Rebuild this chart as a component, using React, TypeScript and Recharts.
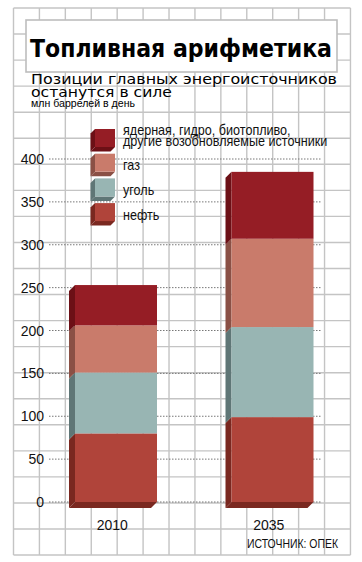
import React from 'react';
import { BarChart, Bar, XAxis, YAxis, CartesianGrid, Legend } from 'recharts';

// ---- data ----
const years = ['2010', '2035'];
const oil = [80, 99];
const coal = [71, 105];
const gas = [55, 103];
const other = [47, 78];
const yTicks = [0, 50, 100, 150, 200, 250, 300, 350, 400];

const title = 'Топливная арифметика';
const subtitle1 = 'Позиции главных энергоисточников';
const subtitle2 = 'останутся в силе';
const unitText = 'млн баррелей в день';
const sourceText = 'ИСТОЧНИК: ОПЕК';

const seriesInfo = [
  { key: 'oil', label: ['нефть'], front: '#b0443a', side: '#7a2820' },
  { key: 'coal', label: ['уголь'], front: '#98b5b3', side: '#5f7676' },
  { key: 'gas', label: ['газ'], front: '#c97b6b', side: '#8a5045' },
  { key: 'other', label: ['ядерная, гидро, биотопливо,', 'другие возобновляемые источники'], front: '#951d25', side: '#6c1016' },
];

const data = years.map((y, i) => ({ year: y, oil: oil[i], coal: coal[i], gas: gas[i], other: other[i] }));

const SANS = '"Liberation Sans", Arial, sans-serif';
const TITLEF = '"DejaVu Sans", Verdana, sans-serif';

const D = 6;
const make3D = (front: string, side: string, bottom: boolean) => (props: any) => {
  const { x, y, width: w, height: h } = props;
  if (!h || h <= 0) return <g />;
  return (
    <g>
      <polygon points={`${x},${y} ${x - D},${y + D} ${x - D},${y + h + D} ${x},${y + h}`} fill={side} />
      {bottom && (
        <polygon points={`${x},${y + h} ${x + w},${y + h} ${x + w - D},${y + h + D} ${x - D},${y + h + D}`} fill={side} />
      )}
      <rect x={x} y={y} width={w} height={h} fill={front} />
    </g>
  );
};

const YTick = (p: any) => (
  <text x={44} y={p.y} dy="0.36em" textAnchor="end" fontSize={14} fontFamily={SANS} fill="#111">
    {p.payload.value}
  </text>
);

const XTick = (p: any) => (
  <text x={p.x - 4} y={p.y} dy="0.71em" textAnchor="middle" fontSize={14} fontFamily={SANS} fill="#111">
    {p.payload.value}
  </text>
);

const LegendContent = () => {
  const items = [...seriesInfo].reverse();
  const sw = 20, sh = 18, sd = 4.5;
  return (
    <svg width={260} height={110} style={{ display: 'block', overflow: 'visible' }}>
      {items.map((s, i) => {
        const x = 7;
        const y = 5 + i * 24.7;
        return (
          <g key={s.key}>
            <polygon points={`${x},${y} ${x - sd},${y + sd} ${x - sd},${y + sh + sd} ${x},${y + sh}`} fill={s.side} />
            <polygon points={`${x},${y + sh} ${x + sw},${y + sh} ${x + sw - sd},${y + sh + sd} ${x - sd},${y + sh + sd}`} fill={s.side} />
            <rect x={x} y={y} width={sw} height={sh} fill={s.front} />
            {s.label.map((line, j) => (
              <text
                key={j}
                x={0}
                y={0}
                transform={`translate(35, ${s.label.length > 1 ? y + 5.5 + j * 11.5 : y + 16.5}) scale(0.9, 1)`}
                fontSize={14}
                fontFamily={SANS}
                fill="#111"
              >
                {line}
              </text>
            ))}
          </g>
        );
      })}
    </svg>
  );
};

const Background = () => {
  const vx: number[] = [];
  for (let k = 0; k < 14; k++) vx.push(13.5 + k * 25.92);
  const hy: number[] = [];
  for (let k = 0; k < 22; k++) hy.push(8 + k * 26.05);
  return (
    <svg width={362} height={562} style={{ position: 'absolute', left: 0, top: 0 }}>
      <rect x={0} y={0} width={362} height={562} fill="#fff" />
      {vx.map((x, i) => (
        <line key={'v' + i} x1={x} x2={x} y1={8} y2={555} stroke="#c4c4c4" strokeWidth={1.4} />
      ))}
      {hy.map((y, i) => (
        <line key={'h' + i} x1={13.5} x2={350.5} y1={y} y2={y} stroke="#c4c4c4" strokeWidth={1.4} />
      ))}
      <rect x={26} y={20} width={311} height={52} fill="#fff" stroke="#bdbdbd" strokeWidth={1.6} />
      <text x={30} y={57} fontSize={24} fontWeight="bold" fontFamily={TITLEF} fill="#000" textLength={302} lengthAdjust="spacingAndGlyphs">{title}</text>
      <text x={31} y={84} fontSize={14.5} fontFamily={TITLEF} fill="#000" textLength={306} lengthAdjust="spacingAndGlyphs">{subtitle1}</text>
      <text x={31} y={96.5} fontSize={14.5} fontFamily={TITLEF} fill="#000" textLength={141} lengthAdjust="spacingAndGlyphs">{subtitle2}</text>
      <text x={31} y={106.5} fontSize={10} fontFamily={SANS} fill="#000" textLength={104} lengthAdjust="spacingAndGlyphs">{unitText}</text>
      <text x={247} y={548} fontSize={12} fontFamily={SANS} fill="#111" textLength={91} lengthAdjust="spacingAndGlyphs">{sourceText}</text>
    </svg>
  );
};

export default function App() {
  return (
    <div style={{ position: 'absolute', left: 0, top: 0, width: 362, height: 562, overflow: 'hidden' }}>
      <Background />
      <div style={{ position: 'absolute', left: 0, top: 0 }}>
        <BarChart width={362} height={562} data={data} margin={{ top: 159, right: 11, bottom: 30, left: 0 }} barSize={82}>
          <CartesianGrid
            vertical={false}
            horizontal={(p: any) => (
              <line
                key={`hg-${p.index}-${p.y1}`}
                x1={49}
                x2={322}
                y1={p.y1}
                y2={p.y2}
                stroke="#777"
                strokeWidth={1}
                strokeDasharray="1.5 1.5"
              />
            )}
          />
          <XAxis dataKey="year" axisLine={false} tickLine={false} tickMargin={12} height={30} tick={<XTick />} />
          <YAxis domain={[0, 400]} ticks={yTicks} interval={0} width={38} axisLine={false} tickLine={false} tick={<YTick />} />
          {seriesInfo.map((s, i) => (
            <Bar
              key={s.key}
              dataKey={s.key}
              name={s.label.join(' ')}
              stackId="a"
              isAnimationActive={false}
              shape={make3D(s.front, s.side, i === 0)}
            />
          ))}
          <Legend
            layout="vertical"
            align="center"
            verticalAlign="middle"
            content={<LegendContent />}
            wrapperStyle={{ position: 'absolute', left: 88, top: 124, width: 260, height: 110 }}
          />
        </BarChart>
      </div>
    </div>
  );
}
